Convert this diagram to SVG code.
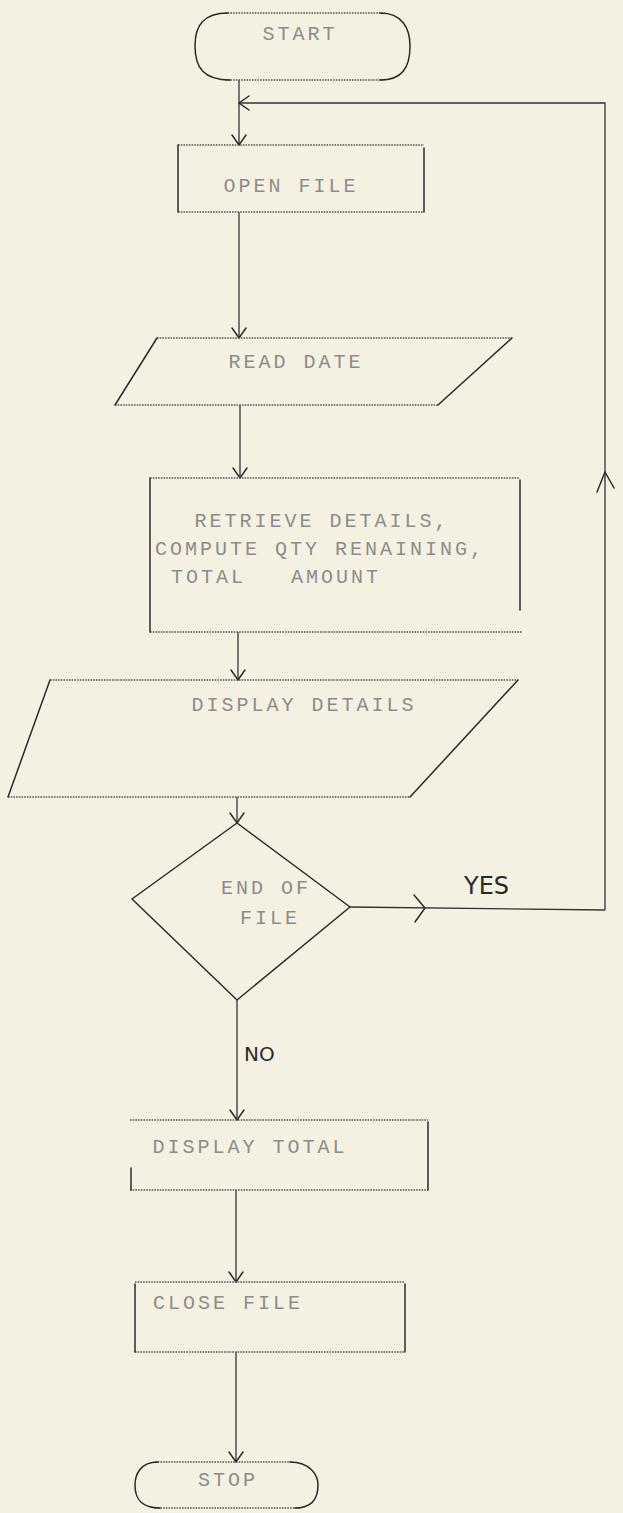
<svg xmlns="http://www.w3.org/2000/svg" width="623" height="1513" viewBox="0 0 623 1513">
<defs>
<style>
.bg{fill:#f5f1e2}
.dot{stroke:#555;stroke-width:1.3;stroke-dasharray:1.6 1.1;fill:none}
.pen{stroke:#2a2a2a;stroke-width:1.5;fill:none;stroke-linecap:round;stroke-linejoin:round}
.con{stroke:#333;stroke-width:1.3;fill:none}
.t{font-family:"Liberation Mono","DejaVu Sans Mono",monospace;font-size:20px;letter-spacing:3px;fill:#8c8c8c;text-anchor:middle}
.h{font-family:"DejaVu Sans","Liberation Sans",sans-serif;fill:#2a2a2a}
</style>
<marker id="ah" markerUnits="userSpaceOnUse" markerWidth="24" markerHeight="24" refX="12" refY="12" orient="auto">
<path d="M2,5 L12,12 L2,19" fill="none" stroke="#2a2a2a" stroke-width="1.5" stroke-linecap="round"/>
</marker>
</defs>
<rect class="bg" x="0" y="0" width="623" height="1513"/>

<g id="connectors">
<line class="con" x1="239" y1="80" x2="239" y2="145" marker-end="url(#ah)"/>
<polyline class="con" points="605,910 605,103 239,103" marker-end="url(#ah)"/>
<path class="pen" d="M597,492 L605,472 L614,488"/>
<line class="con" x1="239" y1="212" x2="239" y2="338" marker-end="url(#ah)"/>
<line class="con" x1="240" y1="405" x2="240" y2="478" marker-end="url(#ah)"/>
<line class="con" x1="238" y1="632" x2="238" y2="680" marker-end="url(#ah)"/>
<line class="con" x1="237" y1="797" x2="237" y2="823" marker-end="url(#ah)"/>
<line class="con" x1="350" y1="907" x2="605" y2="910"/>
<path class="pen" d="M414,895 L425,908 L415,922"/>
<line class="con" x1="237" y1="1000" x2="237" y2="1120" marker-end="url(#ah)"/>
<line class="con" x1="236" y1="1190" x2="236" y2="1282" marker-end="url(#ah)"/>
<line class="con" x1="236" y1="1352" x2="236" y2="1462" marker-end="url(#ah)"/>
<text class="h" x="464" y="894" font-size="24">YES</text>
<text class="h" x="244" y="1061" font-size="20">NO</text>
</g>

<g id="start">
<line class="dot" x1="225" y1="13" x2="385" y2="13"/>
<line class="dot" x1="225" y1="80" x2="385" y2="80"/>
<path class="pen" d="M228,13 C203,13 195,26 195,46 C195,68 204,80 230,80"/>
<path class="pen" d="M380,13 C402,13 410,28 410,46 C410,68 402,80 380,80"/>
<text class="t" x="300" y="40">START</text>
</g>

<g id="open-file">
<line class="dot" x1="178" y1="145" x2="424" y2="145"/>
<line class="dot" x1="178" y1="212" x2="424" y2="212"/>
<line class="pen" x1="178" y1="145" x2="178" y2="212"/>
<line class="pen" x1="424" y1="148" x2="424" y2="212"/>
<text class="t" x="291" y="192">OPEN FILE</text>
</g>

<g id="read-date">
<line class="dot" x1="157" y1="338" x2="512" y2="338"/>
<line class="dot" x1="115" y1="405" x2="438" y2="405"/>
<line class="pen" x1="157" y1="338" x2="115" y2="405"/>
<line class="pen" x1="512" y1="338" x2="438" y2="405"/>
<text class="t" x="296" y="368">READ DATE</text>
</g>

<g id="retrieve">
<line class="dot" x1="150" y1="478" x2="520" y2="478"/>
<line class="dot" x1="150" y1="632" x2="522" y2="632"/>
<line class="pen" x1="150" y1="478" x2="150" y2="632"/>
<line class="pen" x1="520" y1="480" x2="520" y2="610"/>
<text class="t" x="322" y="527">RETRIEVE DETAILS,</text>
<text class="t" x="320" y="555">COMPUTE QTY RENAINING,</text>
<text class="t" x="276" y="583" xml:space="preserve">TOTAL   AMOUNT</text>
</g>

<g id="display-details">
<line class="dot" x1="50" y1="680" x2="518" y2="680"/>
<line class="dot" x1="8" y1="797" x2="410" y2="797"/>
<line class="pen" x1="50" y1="680" x2="8" y2="797"/>
<line class="pen" x1="518" y1="680" x2="410" y2="797"/>
<text class="t" x="304" y="711">DISPLAY DETAILS</text>
</g>

<g id="end-of-file">
<path class="pen" d="M237,823 L350,907 L237,1000 L132,899 Z"/>
<text class="t" x="266" y="894">END OF</text>
<text class="t" x="270" y="924">FILE</text>
</g>

<g id="display-total">
<line class="dot" x1="130" y1="1120" x2="428" y2="1120"/>
<line class="dot" x1="130" y1="1190" x2="428" y2="1190"/>
<line class="pen" x1="131" y1="1168" x2="131" y2="1190"/>
<line class="pen" x1="428" y1="1122" x2="428" y2="1190"/>
<text class="t" x="250" y="1153">DISPLAY TOTAL</text>
</g>

<g id="close-file">
<line class="dot" x1="135" y1="1282" x2="405" y2="1282"/>
<line class="dot" x1="135" y1="1352" x2="405" y2="1352"/>
<line class="pen" x1="135" y1="1284" x2="135" y2="1352"/>
<line class="pen" x1="405" y1="1284" x2="405" y2="1352"/>
<text class="t" x="228" y="1309">CLOSE FILE</text>
</g>

<g id="stop">
<line class="dot" x1="155" y1="1462" x2="292" y2="1462"/>
<line class="dot" x1="155" y1="1508" x2="300" y2="1508"/>
<path class="pen" d="M158,1462 C140,1462 135,1475 135,1485 C135,1500 142,1508 160,1508"/>
<path class="pen" d="M290,1462 C310,1462 318,1475 318,1485 C318,1500 310,1508 295,1508"/>
<text class="t" x="228" y="1486">STOP</text>
</g>
</svg>
